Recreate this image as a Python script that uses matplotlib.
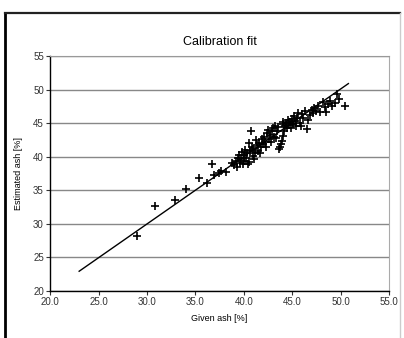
import matplotlib.pyplot as plt
from matplotlib.lines import Line2D

plt.rcParams['font.family'] = ['Liberation Sans', 'DejaVu Sans']

# given vs estimated ash [%]
given_ash = [
    29.0, 30.8, 32.9, 34.0, 35.4, 36.2, 36.7, 36.9, 37.4, 38.2, 37.6,
    38.8, 39.0, 39.2, 39.3, 39.4, 39.5, 39.6, 39.7, 39.8, 39.9, 40.0, 40.0,
    40.1, 40.2, 40.3, 40.4, 40.5, 40.5, 40.6, 40.7, 40.8, 40.9, 41.0, 41.1,
    41.2, 41.3, 41.4, 41.5, 41.6, 41.7, 41.8, 41.9, 42.0, 42.1, 42.2, 42.3,
    42.4, 42.5, 42.6, 42.7, 42.8, 42.9, 43.0, 43.1, 43.2, 43.3, 43.4, 43.5,
    43.6, 43.7, 43.8, 43.9, 44.0, 44.0, 44.1, 44.2, 44.3, 44.4, 44.5, 44.6,
    44.7, 44.8, 44.9, 45.0, 45.1, 45.2, 45.3, 45.4, 45.5, 45.6, 45.8, 45.9,
    46.0, 46.1, 46.3, 46.5, 46.6, 46.8, 47.0, 47.1, 47.3, 47.5, 47.7, 47.9,
    48.2, 48.4, 48.5, 48.7, 48.9, 49.1, 49.4, 49.6, 49.8, 50.5,
]
estimated_ash = [
    28.1, 32.7, 33.6, 35.1, 36.8, 36.1, 38.9, 37.2, 37.5, 37.7, 37.9,
    39.0, 38.7, 39.3, 38.5, 39.8, 40.3, 39.1, 39.6, 40.7, 38.9, 40.2, 39.4,
    41.0, 39.8, 40.5, 38.9, 42.0, 39.2, 40.9, 43.8, 41.5, 40.1, 41.2, 39.6,
    40.5, 42.5, 41.8, 40.8, 42.1, 40.5, 41.4, 42.6, 41.9, 43.0, 42.2, 41.5,
    43.5, 44.0, 42.7, 43.3, 42.2, 43.8, 44.3, 43.0, 44.6, 42.8, 43.9, 44.4,
    41.1, 41.5, 41.9, 42.3, 43.1, 44.8, 45.2, 43.9, 44.5, 45.0, 44.2, 45.4,
    44.7, 45.1, 44.3, 45.6, 44.9, 46.0, 45.3, 44.6, 45.8, 46.5, 45.0, 44.5,
    46.4, 45.7, 46.8, 44.1, 45.4, 46.2, 47.0, 46.5, 47.3, 46.8, 47.5, 46.6,
    48.1, 47.4, 46.6, 47.9, 48.3, 47.6, 48.0, 49.3, 48.6, 47.6,
]

# fit line end points
fit_x = [23.0, 50.8]
fit_y = [22.9, 50.9]

x_ticks = [20, 25, 30, 35, 40, 45, 50, 55]
y_ticks = [20, 25, 30, 35, 40, 45, 50, 55]

fig = plt.figure(figsize=(4.04, 3.38), dpi=100)
ax = fig.add_axes([0.124, 0.140, 0.839, 0.694])

ax.plot(fit_x, fit_y, color='black', linewidth=1.0)
ax.scatter(given_ash, estimated_ash, marker='+', color='black', s=26,
           linewidths=1.2, zorder=3)

ax.set_xlim(20, 55)
ax.set_ylim(20, 55)
ax.set_xticks(x_ticks)
ax.set_xticklabels([f"{t:.1f}" for t in x_ticks])
ax.set_yticks(y_ticks)
ax.tick_params(axis='both', labelsize=7, length=3, width=0.8,
               direction='out', colors='#333333', pad=1.5)

ax.yaxis.grid(True, color='#888888', linewidth=1.0)
ax.set_axisbelow(True)
ax.spines['left'].set_color('black')
ax.spines['bottom'].set_color('black')
ax.spines['left'].set_linewidth(1.0)
ax.spines['bottom'].set_linewidth(1.0)
ax.spines['top'].set_color('#999999')
ax.spines['right'].set_color('#aaaaaa')

ax.set_title("Calibration fit", fontsize=9, pad=8)
ax.set_xlabel("Given ash [%]", fontsize=6.5, labelpad=5)
ax.set_ylabel("Estimated ash [%]", fontsize=6.5, labelpad=7)

# scanned frame around the chart
fig.add_artist(Line2D([0.012, 0.012], [0.0, 0.962], color='black',
                      linewidth=2.0, transform=fig.transFigure))
fig.add_artist(Line2D([0.012, 0.99], [0.962, 0.962], color='#222222',
                      linewidth=1.6, transform=fig.transFigure))
fig.add_artist(Line2D([0.99, 0.99], [0.0, 0.962], color='#cccccc',
                      linewidth=1.0, transform=fig.transFigure))

fig.savefig('out.png', dpi=100)
